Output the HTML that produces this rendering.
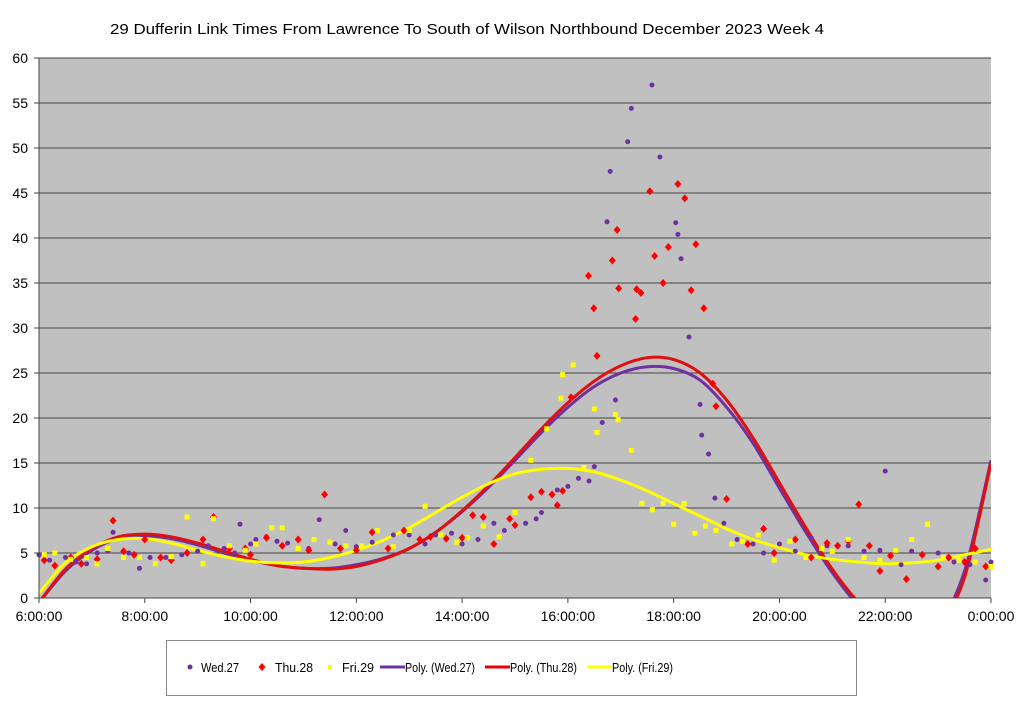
<!DOCTYPE html>
<html><head><meta charset="utf-8">
<style>
body{margin:0;background:#fff;width:1024px;height:701px;overflow:hidden;font-family:"Liberation Sans",sans-serif;}
svg{display:block}
</style></head>
<body>
<svg id="chart" width="1024" height="701" xmlns="http://www.w3.org/2000/svg">
<text x="110" y="34" textLength="714" lengthAdjust="spacingAndGlyphs" font-size="15" font-family="Liberation Sans, sans-serif">29 Dufferin Link Times From Lawrence To South of Wilson Northbound December 2023  Week 4</text>
<rect x="39" y="58" width="952" height="540" fill="#c0c0c0"/>
<g id="grid"></g>
<defs><clipPath id="clip"><rect x="39" y="58" width="952" height="540"/></clipPath></defs>
<g id="lines" clip-path="url(#clip)"></g>
<g id="marks"></g>
<g id="axes"></g>
<rect x="166.5" y="640.5" width="690" height="55" fill="#fff" stroke="#888"/>
<g><circle cx="190" cy="667" r="2.5" fill="#7030a0"/><text x="201" y="672" font-size="13" textLength="38" lengthAdjust="spacingAndGlyphs">Wed.27</text></g>
<g><path d="M262 663 L265.5 667 L262 671 L258.5 667Z" fill="#f00"/><text x="275" y="672" font-size="13" textLength="38" lengthAdjust="spacingAndGlyphs">Thu.28</text></g>
<g><rect x="328" y="665" width="4" height="4" fill="#ff0"/><text x="342" y="672" font-size="13" textLength="32" lengthAdjust="spacingAndGlyphs">Fri.29</text></g>
<g><line x1="380" y1="667" x2="405" y2="667" stroke="#7030a0" stroke-width="3"/><text x="405" y="672" font-size="13" textLength="70" lengthAdjust="spacingAndGlyphs">Poly. (Wed.27)</text></g>
<g><line x1="485" y1="667" x2="510" y2="667" stroke="#e00" stroke-width="3"/><text x="510" y="672" font-size="13" textLength="67" lengthAdjust="spacingAndGlyphs">Poly. (Thu.28)</text></g>
<g><line x1="587" y1="667" x2="612" y2="667" stroke="#ff0" stroke-width="3"/><text x="612" y="672" font-size="13" textLength="61" lengthAdjust="spacingAndGlyphs">Poly. (Fri.29)</text></g>
</svg>
<script>
const yTicks=[0,5,10,15,20,25,30,35,40,45,50,55,60];
const xTicks=[6,8,10,12,14,16,18,20,22,24];
const xTickLabels=["6:00:00","8:00:00","10:00:00","12:00:00","14:00:00","16:00:00","18:00:00","20:00:00","22:00:00","0:00:00"];
const trendHours=[6,6.5,7,7.5,8,8.5,9,9.5,10,10.5,11,11.5,12,12.5,13,13.5,14,14.5,15,15.5,16,16.5,17,17.5,18,18.5,19,19.5,20,20.5,21,21.5,22,22.5,23,23.5,24];
const polyWed=[-0.5,3,5.3,6.6,6.9,6.6,5.9,5.0,4.2,3.6,3.3,3.3,3.7,4.4,5.5,7.3,9.6,12.3,15.3,18.4,21.2,23.5,25.0,25.7,25.5,24.2,21.2,17.2,12.2,7.3,2.8,-0.9,-3.3,-4.3,-3,3,15.3];
const polyThu=[-0.5,3.2,5.5,6.8,7.1,6.8,6.1,5.2,4.3,3.6,3.3,3.2,3.5,4.3,5.5,7.3,9.7,12.5,15.6,18.8,21.7,24.1,25.8,26.7,26.5,25,22,17.8,12.8,7.8,3.2,-0.5,-3,-4.2,-3.2,2.3,15];
const polyFri=[0.5,3.9,5.7,6.5,6.6,6.1,5.3,4.6,4.1,3.9,4.0,4.5,5.3,6.4,7.8,9.5,11.2,12.7,13.8,14.3,14.4,14.0,13.1,11.9,10.5,9.1,7.7,6.5,5.6,4.8,4.3,4.0,3.8,3.9,4.2,4.8,5.4];
const wedHours=[6,6.2,6.5,6.7,6.9,7.1,7.3,7.4,7.7,7.9,8.1,8.4,8.7,9,9.2,9.5,9.7,9.8,10,10.1,10.3,10.5,10.7,11.1,11.3,11.6,11.8,12,12.3,12.7,13,13.3,13.5,13.8,14,14.3,14.6,14.8,15.2,15.4,15.5,15.8,16,16.2,16.4,16.5,16.65,16.74,16.9,16.8,17.13,17.2,17.59,17.74,18.04,18.08,18.14,18.29,18.5,18.53,18.66,18.78,18.95,19.2,19.5,19.7,20,20.3,20.6,20.9,21.3,21.6,21.9,22,22.3,22.5,22.7,23,23.3,23.6,23.9,24];
const wedVals=[4.8,4.2,4.5,4,3.8,5,5.2,7.3,5,3.3,4.5,4.5,4.8,5.2,5.8,5.5,5,8.2,6,6.5,6.8,6.3,6.1,5.5,8.7,6,7.5,5.7,6.2,7,7,6,7,7.2,6,6.5,8.3,7.5,8.3,8.8,9.5,12,12.4,13.3,13,14.6,19.5,41.8,22,47.4,50.7,54.4,57,49,41.7,40.4,37.7,29,21.5,18.1,16,11.1,8.3,6.5,6,5,6,5.2,6.7,5.8,5.8,5.2,5.3,14.1,3.7,5.2,4.8,5,4,3.7,2,4];
const thuHours=[6.1,6.3,6.6,6.8,7.1,7.4,7.6,7.8,8,8.3,8.5,8.8,9.1,9.3,9.6,9.9,10,10.3,10.6,10.9,11.1,11.4,11.7,12,12.3,12.6,12.9,13.2,13.4,13.7,14,14.2,14.4,14.6,14.9,15,15.3,15.5,15.7,15.8,15.9,16.06,16.39,16.49,16.55,16.84,16.93,16.96,17.28,17.3,17.38,17.55,17.64,17.8,17.9,18.08,18.21,18.33,18.42,18.57,18.74,18.8,19,19.4,19.7,19.9,20.3,20.6,20.9,21.1,21.3,21.5,21.7,21.9,22.1,22.4,22.7,23,23.2,23.5,23.7,23.9];
const thuVals=[4.2,3.6,4.5,3.8,4.3,8.6,5.2,4.8,6.5,4.5,4.2,5,6.5,9,5.5,5.5,4.8,6.7,5.8,6.5,5.3,11.5,5.5,5.3,7.3,5.5,7.5,6.5,6.8,6.6,6.7,9.2,9,6,8.8,8.1,11.2,11.8,11.5,10.3,11.9,22.3,35.8,32.2,26.9,37.5,40.9,34.4,31,34.3,33.9,45.2,38,35,39,46,44.4,34.2,39.3,32.2,23.8,21.3,11,6,7.7,5,6.5,4.5,6.1,5.8,6.3,10.4,5.8,3,4.7,2.1,4.8,3.5,4.5,4,5.5,3.5];
const friHours=[6.1,6.3,6.6,6.9,7.1,7.3,7.6,7.9,8.2,8.5,8.8,9.1,9.3,9.6,9.9,10.1,10.4,10.6,10.9,11.2,11.5,11.8,12.1,12.4,12.7,13,13.3,13.6,13.9,14.1,14.4,14.7,15,15.3,15.6,15.9,15.87,16.1,16.3,16.5,16.55,16.9,16.95,17.2,17.4,17.6,17.8,18,18.2,18.4,18.6,18.8,19.1,19.3,19.6,19.9,20.2,20.5,20.8,21,21.3,21.6,21.9,22.2,22.5,22.8,23.1,23.4,23.7,24];
const friVals=[4.8,5,4.3,4.5,3.8,5.5,4.5,4.5,3.8,4.6,9,3.8,8.8,5.8,5.3,6,7.8,7.8,5.5,6.5,6.2,5.8,5.8,7.5,5.7,7.5,10.2,7,6.2,6.7,8,6.8,9.5,15.3,18.8,24.8,22.2,25.9,14.5,21,18.4,20.4,19.8,16.4,10.5,9.8,10.5,8.2,10.5,7.2,8,7.5,6,6.3,7,4.2,6.3,4.5,5.5,5.2,6.5,4.5,4.2,5.3,6.5,8.2,4.5,4.2,4,3.5];

const NS="http://www.w3.org/2000/svg";
function xs(h){return 39+(h-6)*(952/18);}
function ys(v){return 598-v*9;}
function mk(tag,attrs,parent){const e=document.createElementNS(NS,tag);for(const k in attrs)e.setAttribute(k,attrs[k]);parent.appendChild(e);return e;}
const grid=document.getElementById('grid'),axes=document.getElementById('axes'),lines=document.getElementById('lines'),marks=document.getElementById('marks');
yTicks.forEach(v=>{
  if(v>0){const g=mk('line',{x1:39,x2:991,y1:ys(v),y2:ys(v),stroke:'#444','stroke-width':1},grid);
  
  }
  const t=mk('text',{x:28,y:ys(v)+5,'text-anchor':'end','font-size':14},axes);t.textContent=v;
  
  
  mk('line',{x1:34,x2:39,y1:ys(v),y2:ys(v),stroke:'#444'},axes);
});
const ax=mk('line',{x1:39,x2:39,y1:58,y2:598,stroke:'#444'},axes);


const bx=mk('line',{x1:39,x2:991,y1:598,y2:598,stroke:'#444'},axes);


xTicks.forEach((h,i)=>{
  mk('line',{x1:xs(h),x2:xs(h),y1:598,y2:603,stroke:'#444'},axes);
  const t=mk('text',{x:xs(h),y:621,'text-anchor':'middle','font-size':14},axes);t.textContent=xTickLabels[i];
  
  
});
function curve(vals,color,name){
  const p=trendHours.map((h,i)=>[xs(h),ys(vals[i])]);
  let d='M'+p[0][0]+' '+p[0][1];
  for(let i=0;i<p.length-1;i++){
    const p0=p[i-1]||p[i],p1=p[i],p2=p[i+1],p3=p[i+2]||p2;
    d+=' C'+(p1[0]+(p2[0]-p0[0])/6)+' '+(p1[1]+(p2[1]-p0[1])/6)+' '+(p2[0]-(p3[0]-p1[0])/6)+' '+(p2[1]-(p3[1]-p1[1])/6)+' '+p2[0]+' '+p2[1];
  }
  const e=mk('path',{d:d,fill:'none',stroke:color,'stroke-width':3},lines);
  
  
}
wedHours.forEach((h,i)=>{const c=mk('circle',{cx:xs(h),cy:ys(wedVals[i]),r:2.5,fill:'#7030a0'},marks);
  
  });
thuHours.forEach((h,i)=>{const x=xs(h),y=ys(thuVals[i]);const c=mk('path',{d:`M${x} ${y-4}L${x+3.5} ${y}L${x} ${y+4}L${x-3.5} ${y}Z`,fill:'#f00'},marks);
  
  });
friHours.forEach((h,i)=>{const c=mk('rect',{x:xs(h)-2.5,y:ys(friVals[i])-2.5,width:5,height:5,fill:'#ff0'},marks);
  
  });
curve(polyWed,'#7030a0','trend-wed');
curve(polyThu,'#e01010','trend-thu');
curve(polyFri,'#ffff00','trend-fri');
</script>
</body></html>
